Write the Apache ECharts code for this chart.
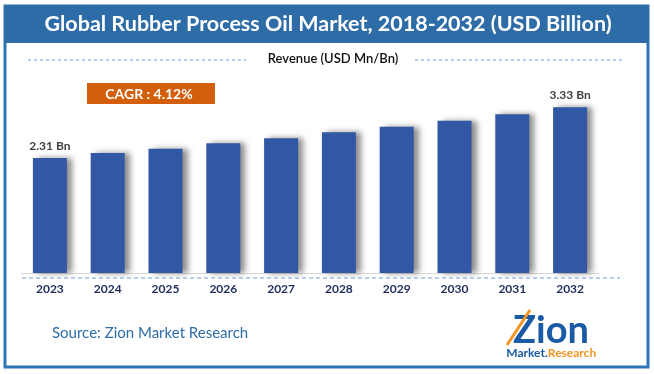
<!DOCTYPE html>
<html><head><meta charset="utf-8">
<script src="https://cdn.jsdelivr.net/npm/echarts@6/dist/echarts.min.js"></script>
<style>html,body{margin:0;padding:0;background:#fff}#c{width:654px;height:374px}</style>
</head><body><div id="c"></div>
<script>
const years = ['2023','2024','2025','2026','2027','2028','2029','2030','2031','2032'];
const revenue = [2.31, 2.41, 2.50, 2.61, 2.71, 2.83, 2.94, 3.06, 3.19, 3.33];
const labelYears = ['2023','2032'];
const titleText = 'Global Rubber Process Oil Market, 2018-2032 (USD Billion)';
const subtitleText = 'Revenue (USD Mn/Bn)';
const cagrText = 'CAGR : 4.12%';
const sourceText = 'Source: Zion Market Research';

const chart = echarts.init(document.getElementById('c'), null, {renderer:'canvas'});
const F = 'Lato, "Open Sans", sans-serif';
chart.setOption({
  animation:false,
  backgroundColor:'#fff',
  grid:{left:21, right:55, top:74, bottom:101},
  xAxis:{type:'category', data:years,
    axisLine:{show:true, lineStyle:{color:'#d9d9d9', width:1}},
    axisTick:{show:false},
    axisLabel:{color:'#1f2d5c', fontWeight:'bold', fontSize:12, fontFamily:F, margin:10}},
  yAxis:{type:'value', min:0, max:4, show:false, splitLine:{show:false}},
  series:[{type:'bar', data:revenue, barWidth:34,
    itemStyle:{color:'#3157a5', shadowColor:'rgba(0,0,0,0.45)', shadowBlur:6, shadowOffsetX:5, shadowOffsetY:0},
    label:{show:true, position:'top', distance:6, color:'#404040', fontWeight:'bold', fontSize:12, fontFamily:F,
      formatter:p=> labelYears.includes(p.name) ? p.value.toFixed(2)+' Bn' : ''}
  }],
  graphic:[
    {type:'rect', shape:{x:5, y:6, width:643, height:361}, style:{fill:'none', stroke:'#2e75b6', lineWidth:3}, z:10},
    {type:'rect', shape:{x:4, y:5, width:645, height:38}, style:{fill:'#2e6ca8'}, z:11},
    {type:'text', x:328, y:24, style:{text:titleText, fill:'#fff', font:'bold 21.5px '+F, textAlign:'center', textVerticalAlign:'middle'}, z:12},
    {type:'text', x:333, y:59, style:{text:subtitleText, fill:'#111', font:'600 13px '+F, textAlign:'center', textVerticalAlign:'middle'}, z:12},
    {type:'line', shape:{x1:28, y1:60, x2:246, y2:60}, style:{stroke:'#6f9bd1', lineWidth:1, lineDash:[3,3]}, z:12},
    {type:'line', shape:{x1:415, y1:60, x2:622, y2:60}, style:{stroke:'#6f9bd1', lineWidth:1, lineDash:[3,3]}, z:12},
    {type:'rect', shape:{x:87, y:83, width:128, height:21}, style:{fill:'#d35f0c'}, z:12},
    {type:'text', x:149, y:94, style:{text:cagrText, fill:'#fff', font:'bold 14px '+F, textAlign:'center', textVerticalAlign:'middle'}, z:13},
    {type:'line', shape:{x1:22, y1:278, x2:620, y2:278}, style:{stroke:'#6f9bd1', lineWidth:1, lineDash:[4,3]}, z:12},
    {type:'text', x:52, y:333, style:{text:sourceText, fill:'#2e6ca8', font:'15px '+F, textAlign:'left', textVerticalAlign:'middle'}, z:12},
    {type:'text', x:551, y:331, style:{text:'Zion', fill:'#1a5aa6', font:'bold 38px '+F, textAlign:'center', textVerticalAlign:'middle'}, z:12},
    {type:'line', shape:{x1:507, y1:345, x2:530, y2:310}, style:{stroke:'#f29422', lineWidth:3}, z:13},
    {type:'text', x:527, y:353, style:{text:'Market.', fill:'#1a5aa6', font:'bold 12px '+F, textAlign:'center', textVerticalAlign:'middle'}, z:12},
    {type:'text', x:572, y:353, style:{text:'Research', fill:'#f29422', font:'bold 12px '+F, textAlign:'center', textVerticalAlign:'middle'}, z:12}
  ]
});
</script></body></html>
